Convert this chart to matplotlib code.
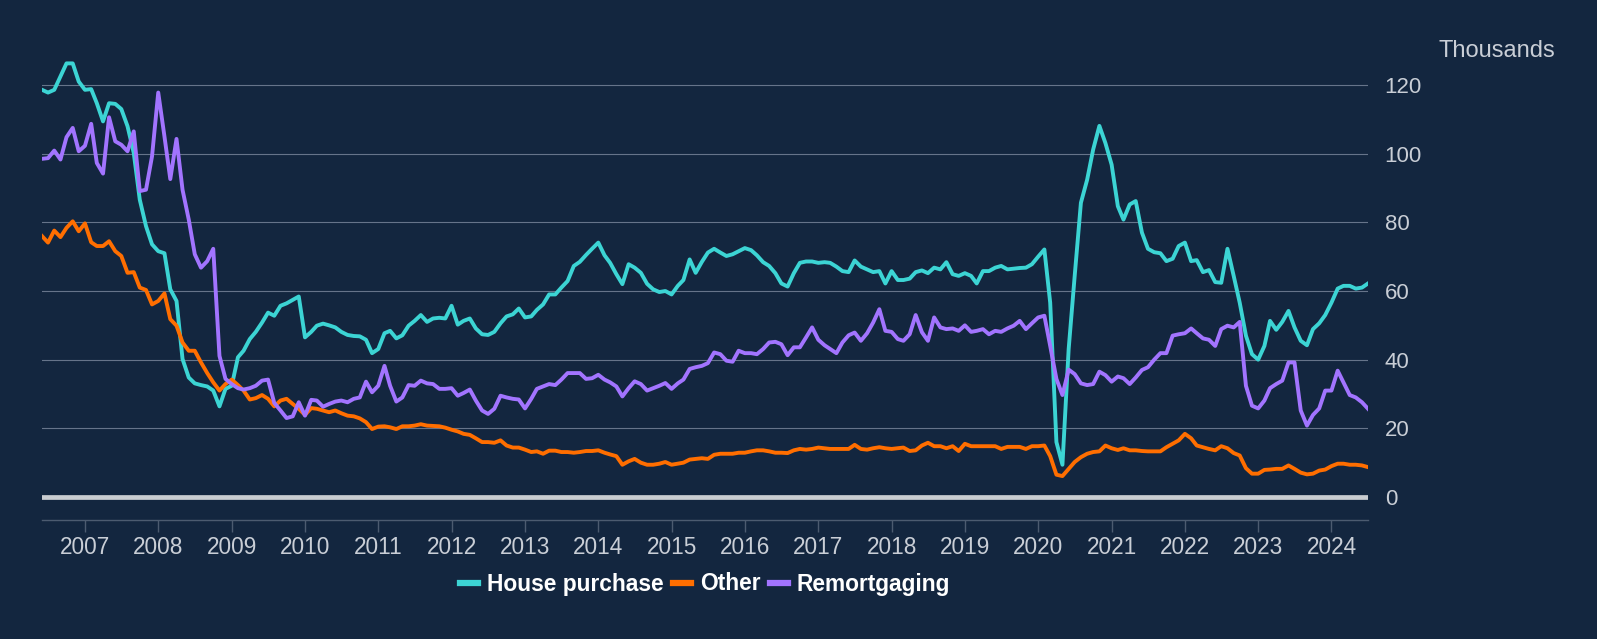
import pandas as pd
import matplotlib
matplotlib.use("Agg")
import matplotlib.pyplot as plt
import matplotlib.dates as mdates

plt.rcParams['font.family'] = ['Liberation Sans', 'DejaVu Sans']

# monthly approvals, thousands, Jun 2006 - Jul 2024
house_purchase = [
    118.6, 117.8, 118.6, 122.5, 126.3, 126.3, 121, 118.6, 118.8, 114.7, 109.4, 114.7,
    114.5, 113, 108, 100.2, 86.6, 78.9, 73.6, 71.6, 71, 60.5, 57.1, 40.2,
    34.8, 33.1, 32.6, 32.2, 31, 26.4, 31.5, 32.4, 40.7, 42.6, 46, 48.1, 50.8,
    53.7, 52.8, 55.7, 56.4, 57.4, 58.4, 46.5, 48.1, 49.9, 50.5, 50, 49.4,
    48.1, 47.2, 46.9, 46.8, 45.8, 41.9, 43.1, 47.7, 48.4, 46.2, 47.1, 49.9,
    51.3, 53, 51, 52, 52.2, 52, 55.7, 50.2, 51.3, 52, 49.1, 47.4,
    47.2, 48.1, 50.6, 52.6, 53.2, 54.9, 52.3, 52.6, 54.5, 56.1, 59, 59,
    61, 62.9, 67.3, 68.5, 70.5, 72.3, 74.1, 70.4, 68.2, 64.9, 62, 67.8,
    66.8, 65.3, 62.1, 60.5, 59.7, 60, 59, 61.5, 63.2, 69.2, 65.3, 68.5,
    71.2, 72.3, 71.2, 70.2, 70.7, 71.6, 72.5, 71.9, 70.4, 68.4, 67.3, 65.2,
    62.2, 61.3, 65.2, 68.2, 68.6, 68.6, 68.2, 68.4, 68.2, 67.1, 65.8, 65.5,
    68.9, 67.1, 66.3, 65.5, 65.8, 62.2, 65.8, 63.2, 63.2, 63.6, 65.5, 66,
    65.2, 66.8, 66.3, 68.4, 64.9, 64.4, 65.2, 64.4, 62.2, 65.8, 65.8, 66.8,
    67.3, 66.3, 66.5, 66.7, 66.8, 67.8, 70, 72.1, 56.6, 16, 9.4, 43.1,
    64.4, 85.7, 92.4, 101.2, 108.1, 103.1, 96.8, 84.7, 80.8, 85.2, 86.2, 77,
    72.3, 71.3, 71, 68.7, 69.4, 73.1, 74.1, 68.7, 69, 65.5, 66.1, 62.6,
    62.4, 72.3, 64.4, 56.6, 47, 41.6, 40, 44, 51.3, 48.7, 51, 54.2,
    49.4, 45.5, 44.2, 48.9, 50.6, 53, 56.6, 60.7, 61.5, 61.5, 60.7, 61, 62.2,
]
other = [
    76, 74.1, 77.6, 75.7, 78.4, 80.3, 77.4, 79.7, 74.2, 73.1, 73.1, 74.5,
    71.6, 70.2, 65.3, 65.5, 61, 60.3, 56.1, 57.1, 59.3, 51.8, 49.9, 45,
    42.6, 42.6, 39.2, 36.1, 33.4, 31, 32.9, 34.2, 32.6, 31, 28.4, 28.8, 29.7,
    28.6, 26.4, 28.1, 28.6, 27.1, 25.7, 23.9, 25.9, 25.7, 25.2, 24.7, 25.2,
    24.4, 23.7, 23.5, 22.9, 21.8, 19.8, 20.5, 20.6, 20.3, 19.8, 20.6, 20.6,
    20.8, 21.2, 20.8, 20.7, 20.6, 20.2, 19.6, 19.1, 18.4, 18.1, 17.1, 16,
    16, 15.8, 16.5, 15, 14.4, 14.4, 13.8, 13.1, 13.3, 12.6, 13.5, 13.5,
    13.1, 13.1, 12.9, 13.1, 13.4, 13.4, 13.6, 12.9, 12.4, 11.9, 9.4, 10.4,
    11.1, 10, 9.4, 9.4, 9.7, 10.2, 9.4, 9.7, 10, 10.9, 11.1, 11.3,
    11.1, 12.3, 12.6, 12.6, 12.6, 12.9, 12.9, 13.3, 13.6, 13.6, 13.3, 12.9,
    12.9, 12.8, 13.6, 14, 13.8, 14, 14.4, 14.2, 14, 14, 14, 14,
    15.2, 14, 13.8, 14.2, 14.5, 14.2, 14, 14.2, 14.4, 13.4, 13.6, 15,
    15.8, 14.8, 14.8, 14.2, 14.8, 13.4, 15.5, 14.8, 14.8, 14.8, 14.8, 14.8,
    14, 14.6, 14.6, 14.6, 14, 14.8, 14.8, 15, 11.9, 6.5, 6.1, 8.2,
    10.2, 11.6, 12.6, 13.1, 13.3, 15, 14.2, 13.7, 14.2, 13.6, 13.6, 13.4,
    13.3, 13.3, 13.3, 14.5, 15.5, 16.5, 18.4, 17.1, 15, 14.5, 14, 13.6,
    14.8, 14.2, 12.8, 12.1, 8.4, 6.8, 6.8, 7.9, 8, 8.2, 8.2, 9.2,
    8.2, 7.1, 6.6, 6.8, 7.7, 8, 9, 9.7, 9.7, 9.4, 9.4, 9.2, 8.7,
]
remortgaging = [
    98.5, 98.7, 100.9, 98.3, 104.8, 107.5, 100.7, 102.3, 108.7, 97.3, 94.2, 110.6,
    103.6, 102.6, 100.7, 106.5, 89.1, 89.5, 99.2, 117.8, 105, 92.6, 104.3, 89.5,
    80.8, 70.7, 66.8, 68.7, 72.3, 41.1, 34.4, 32.9, 31.7, 31.3, 31.7, 32.4, 33.9,
    34.2, 27.4, 25.2, 23, 23.5, 27.6, 23.7, 28.3, 28.1, 26.3, 27.1, 27.8,
    28.1, 27.6, 28.6, 29, 33.6, 30.5, 32.4, 38.2, 32.4, 27.8, 29, 32.6,
    32.4, 33.9, 33.1, 32.9, 31.5, 31.5, 31.7, 29.5, 30.3, 31.3, 28.1, 25.2,
    24.2, 25.7, 29.5, 29, 28.6, 28.4, 25.8, 28.6, 31.5, 32.2, 32.9, 32.6,
    34.2, 36.1, 36.1, 36.1, 34.4, 34.6, 35.6, 34.2, 33.4, 32.2, 29.3, 31.7,
    33.7, 32.9, 31, 31.7, 32.4, 33.2, 31.5, 33.1, 34.2, 37.3, 37.8, 38.2,
    39, 42.1, 41.6, 39.7, 39.4, 42.6, 41.9, 41.9, 41.6, 43.1, 45, 45.2,
    44.5, 41.3, 43.6, 43.6, 46.5, 49.4, 45.8, 44.2, 43.1, 41.9, 45, 47.1,
    47.9, 45.5, 47.7, 50.8, 54.7, 48.4, 48.1, 46, 45.5, 47.4, 53, 48,
    45.5, 52.3, 49.4, 48.9, 49.1, 48.4, 50, 48.1, 48.4, 48.9, 47.4, 48.4,
    48.1, 49.1, 49.9, 51.3, 48.9, 50.6, 52.3, 52.8, 44, 34.4, 29.7, 37.1,
    35.8, 33.1, 32.6, 32.9, 36.5, 35.5, 33.6, 35.1, 34.6, 32.9, 34.8, 37,
    37.8, 40, 41.9, 41.9, 47, 47.4, 47.7, 49.1, 47.7, 46.2, 45.8, 44,
    48.9, 49.9, 49.4, 51, 32.4, 26.6, 25.8, 28.1, 31.7, 32.9, 33.9, 39.2,
    39.2, 25.2, 20.8, 23.9, 25.8, 31, 31, 36.8, 33.4, 29.7, 29, 27.6, 25.7,
]
dates = pd.date_range('2006-06-01', periods=len(house_purchase), freq='MS')
years = list(range(2007, 2025))
yticks = [0, 20, 40, 60, 80, 100, 120]

bg = '#13263f'
txt = '#c9ced6'

fig = plt.figure(figsize=(15.97, 6.39), dpi=100, facecolor=bg)
ax = fig.add_axes([0.0263, 0.1862, 0.8303, 0.7345], facecolor=bg)

for y in yticks[1:]:
    ax.axhline(y, color='#66748a', lw=0.8, zorder=1)
ax.axhline(0, color='#c9cdd1', lw=3.4, zorder=2)

ax.plot(dates, house_purchase, color='#3cd4d4', lw=2.8, label='House purchase', zorder=3)
ax.plot(dates, other, color='#ff6e00', lw=2.8, label='Other', zorder=3)
ax.plot(dates, remortgaging, color='#a274ff', lw=2.8, label='Remortgaging', zorder=3)

ax.set_xlim(dates[0], dates[-1])
ax.set_ylim(-6.7, 130)

for s in ['top', 'left', 'right']:
    ax.spines[s].set_visible(False)
ax.spines['bottom'].set_color('#4c5b70')
ax.spines['bottom'].set_linewidth(1)

ax.set_xticks([pd.Timestamp(f'{y}-01-01') for y in years])
ax.xaxis.set_major_formatter(mdates.DateFormatter('%Y'))
ax.tick_params(axis='x', colors='#4c5b70', length=8.5, width=1, labelcolor=txt,
               labelsize=16.3, pad=3)

ax.yaxis.tick_right()
ax.set_yticks(yticks)
ax.tick_params(axis='y', length=0, labelcolor=txt, labelsize=16, pad=12)

fig.text(0.901, 0.920, 'Thousands', color=txt, fontsize=17, ha='left', va='center')

leg = fig.legend(loc='center', bbox_to_anchor=(0.0263 + 0.8303 / 2, 1 - 584 / 639), ncol=3,
                 frameon=False, handlelength=0.8, handletextpad=0.4, columnspacing=0.4,
                 prop={'weight': 'bold', 'size': 16.4})
for t in leg.get_texts():
    t.set_color('white')
for h in leg.legend_handles:
    h.set_linewidth(4.5)

fig.savefig('out.png', dpi=100, facecolor=bg)
